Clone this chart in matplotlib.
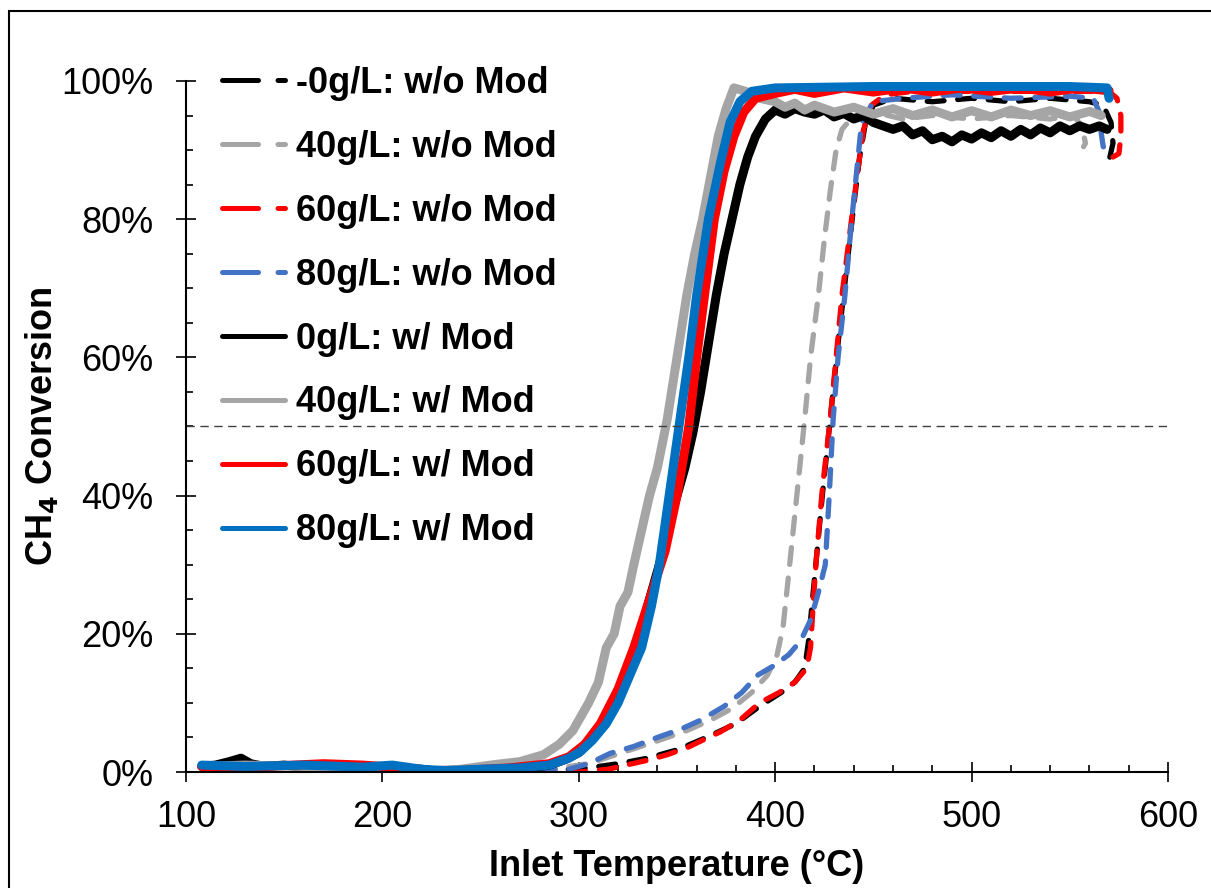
import matplotlib
matplotlib.use("Agg")
import matplotlib.pyplot as plt
from matplotlib.lines import Line2D
from matplotlib.patches import Rectangle
from matplotlib.ticker import PercentFormatter, MultipleLocator

plt.rcParams['font.family'] = ['Liberation Sans', 'DejaVu Sans']

# (inlet temperature degC, CH4 conversion fraction)
# without modification (dashed)
black_wo = [(108, .008), (130, .015), (150, .008), (180, .007), (210, .006), (230, .001), (260, .002),
            (290, .003), (305, .006), (320, .012), (335, .02), (350, .032), (365, .05), (380, .07),
            (392, .095), (403, .115), (410, .13), (415, .15), (417, .19), (419, .25), (421, .31),
            (424, .40), (428, .51), (432, .62), (436, .72), (440, .82), (443, .89), (446, .94),
            (450, .965), (460, .975), (480, .97), (500, .975), (520, .97), (540, .975), (560, .97),
            (567, .965), (571, .94), (572, .91), (570, .885), (567, .885)]
grey_wo = [(108, .008), (150, .008), (200, .007), (230, .001), (260, .002), (290, .006), (305, .012),
           (321, .027), (340, .045), (355, .06), (367, .075), (378, .092), (388, .115), (396, .14),
           (401, .17), (404, .21), (407, .29), (411, .40), (415, .51), (418, .60), (422, .69),
           (425, .77), (428, .84), (431, .90), (434, .93), (440, .95), (450, .955), (465, .945),
           (480, .95), (500, .945), (520, .95), (540, .945), (552, .95), (556, .935), (558, .91),
           (557, .905)]
red_wo = [(108, .008), (150, .008), (200, .007), (230, .001), (260, .001), (300, .0), (315, .004),
          (324, .01), (335, .017), (345, .025), (355, .035), (363, .046), (372, .058), (382, .075),
          (392, .10), (402, .115), (410, .13), (416, .15), (418, .18), (419.5, .25), (421, .31),
          (424, .41), (428, .51), (431, .60), (434, .69), (438, .78), (442, .87), (445, .93),
          (449, .965), (456, .98), (470, .985), (500, .985), (540, .985), (570, .985), (574, .975),
          (576, .95), (576, .92), (575, .895), (572, .89)]
blue_wo = [(108, .008), (150, .008), (200, .007), (230, .001), (260, .002), (295, .004), (305, .012),
           (316, .027), (328, .037), (340, .05), (352, .062), (362, .075), (374, .095), (383, .115),
           (391, .14), (400, .155), (407, .17), (413, .19), (418, .22), (422, .26), (425.5, .30),
           (427.5, .40), (429.5, .51), (432, .60), (435.5, .69), (439, .80), (441.5, .87), (444, .94),
           (450, .97), (465, .975), (490, .98), (520, .975), (550, .978), (562, .975), (565, .955),
           (566, .925), (567, .905), (569, .90)]

# with modification (solid)
black_mod = [(108, .008), (115, .01), (122, .015), (128, .02), (133, .012), (140, .008), (150, .01),
             (160, .007), (170, .009), (180, .006), (190, .008), (200, .007), (210, .006), (220, .004),
             (228, .001), (236, .0), (245, .002), (255, .003), (265, .004), (275, .006), (285, .01),
             (293, .018), (300, .028), (306, .045), (312, .07), (318, .10), (324, .14), (330, .19),
             (336, .25), (342, .31), (348, .38), (354, .44), (358, .49), (362, .55), (366, .62),
             (370, .69), (374, .75), (378, .80), (382, .85), (386, .89), (390, .92), (395, .945),
             (400, .958), (405, .952), (410, .96), (415, .955), (420, .952), (425, .958), (430, .948),
             (435, .953), (440, .945), (445, .95), (450, .94), (455, .935), (460, .93), (465, .935),
             (470, .922), (475, .928), (480, .915), (485, .92), (490, .912), (495, .922), (500, .916),
             (505, .925), (510, .918), (515, .928), (520, .92), (525, .93), (530, .922), (535, .932),
             (540, .925), (545, .935), (550, .928), (555, .935), (560, .93), (565, .935), (569, .93)]
grey_mod = [(108, .008), (130, .01), (160, .008), (200, .007), (225, .002), (240, .004), (255, .01),
            (270, .015), (282, .025), (290, .04), (297, .06), (305, .10), (310, .13), (314, .18),
            (318, .20), (321, .24), (325, .26), (328, .30), (332, .35), (336, .40), (340, .44),
            (345, .51), (350, .60), (355, .69), (359, .75), (363, .80), (367, .86), (371, .92),
            (375, .96), (379, .99), (385, .985), (392, .975), (400, .97), (405, .962), (410, .968),
            (415, .958), (420, .965), (430, .955), (440, .962), (450, .952), (460, .96), (470, .95),
            (480, .958), (490, .948), (500, .957), (510, .948), (520, .958), (530, .95), (540, .957),
            (550, .948), (560, .956), (566, .95)]
red_mod = [(108, .008), (140, .008), (170, .012), (190, .01), (210, .006), (228, .0), (245, .003),
           (265, .006), (285, .012), (295, .022), (303, .04), (311, .07), (320, .12), (328, .18),
           (336, .25), (344, .32), (350, .40), (356, .50), (360, .60), (364, .69), (369, .80),
           (374, .87), (379, .92), (384, .955), (390, .975), (400, .982), (410, .988), (420, .982),
           (435, .99), (450, .984), (465, .99), (480, .984), (495, .99), (510, .985), (525, .99),
           (540, .984), (555, .99), (570, .986)]
blue_mod = [(108, .01), (130, .008), (160, .01), (190, .007), (205, .01), (220, .004), (232, .002),
            (250, .004), (270, .006), (285, .01), (295, .02), (301, .03), (307, .046), (314, .07),
            (320, .10), (326, .14), (332, .18), (337, .24), (341, .30), (346, .40), (351, .50),
            (356, .60), (360, .69), (366, .80), (372, .88), (377, .94), (382, .97), (388, .985),
            (400, .99), (450, .992), (500, .992), (550, .992), (569, .99), (570, .975)]

labels = ['-0g/L: w/o Mod', '40g/L: w/o Mod', '60g/L: w/o Mod', '80g/L: w/o Mod',
          '0g/L: w/ Mod', '40g/L: w/ Mod', '60g/L: w/ Mod', '80g/L: w/ Mod']
colors = ['#000000', '#A5A5A5', '#FF0000', '#4472C4',
          '#000000', '#A5A5A5', '#FF0000', '#0070C0']
series = [black_wo, grey_wo, red_wo, blue_wo, black_mod, grey_mod, red_mod, blue_mod]

fig = plt.figure(figsize=(12.11, 8.88), dpi=100)
ax = fig.add_axes([186 / 1211, 1 - 772 / 888, (1168 - 186) / 1211, (772 - 81) / 888])

handles = []
for i, data in enumerate(series):
    xs = [p[0] for p in data]
    ys = [p[1] for p in data]
    if i < 4:
        ax.plot(xs, ys, color=colors[i], lw=3.8, dashes=(3.2, 2.6),
                dash_capstyle='round', solid_joinstyle='round')
        h = Line2D([], [], color=colors[i], lw=3.6, dashes=(7.2, 3.9), dash_capstyle='round')
    else:
        ax.plot(xs, ys, color=colors[i], lw=6.5, solid_joinstyle='round', solid_capstyle='round')
        h = Line2D([], [], color=colors[i], lw=3.6, solid_capstyle='round')
    handles.append(h)

ax.axhline(0.5, color='#404040', lw=1.0, dashes=(6, 4))

ax.set_xlim(100, 600)
ax.set_ylim(0, 1)
ax.yaxis.set_major_formatter(PercentFormatter(1.0, decimals=0))
ax.xaxis.set_major_locator(MultipleLocator(100))
ax.xaxis.set_minor_locator(MultipleLocator(20))
ax.yaxis.set_major_locator(MultipleLocator(0.2))
ax.yaxis.set_minor_locator(MultipleLocator(0.05))
ax.tick_params(which='major', direction='inout', length=15, width=1.2, labelsize=26)
ax.tick_params(axis='y', which='major', pad=16)
ax.tick_params(axis='x', which='major', pad=13)
ax.tick_params(which='minor', direction='in', length=5, width=1.2)
for s in ['top', 'right']:
    ax.spines[s].set_visible(False)
for s in ['left', 'bottom']:
    ax.spines[s].set_linewidth(1.5)

ax.set_xlabel('Inlet Temperature (°C)', fontsize=26, fontweight='bold', labelpad=10)
ax.set_ylabel('CH$_\\mathbf{4}$ Conversion', fontsize=26, fontweight='bold', labelpad=1)

ax.legend(handles, labels, loc='upper left', bbox_to_anchor=(222 / 1211, 1 - 66 / 888),
          bbox_transform=fig.transFigure, frameon=False, borderpad=0, borderaxespad=0,
          handlelength=1.75, handletextpad=0.3, labelspacing=0.8,
          prop={'size': 26, 'weight': 'bold'})

# outer frame of the picture
fig.patches.append(Rectangle((9 / 1211, -0.1), 1.2, 1.1 - 11 / 888, transform=fig.transFigure,
                             fill=False, edgecolor='black', lw=1.5))

fig.savefig('out.png', dpi=100)
